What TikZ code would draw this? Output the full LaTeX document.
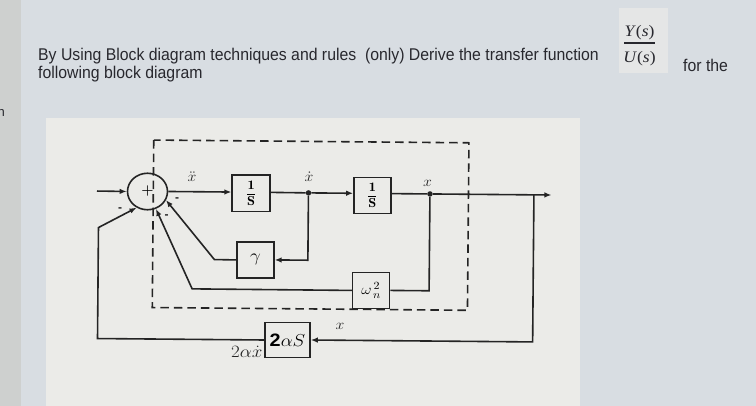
\documentclass[tikz,border=0pt]{standalone}
\usepackage{amsmath}
\usepackage{fontspec}
\newfontfamily\uifont{Liberation Sans}
\newfontfamily\serfont{Liberation Serif}
\usetikzlibrary{arrows.meta,shapes.geometric}
\definecolor{ink}{RGB}{36,36,36}
\definecolor{outerbg}{RGB}{216,221,226}
\definecolor{stripbg}{RGB}{206,208,207}
\definecolor{panelbg}{RGB}{235,235,232}
\definecolor{fracbg}{RGB}{229,230,230}
\definecolor{textc}{RGB}{40,40,46}
\newcommand{\hs}[1]{\scalebox{1.1}[1]{#1}}
\newcommand{\hdrscale}[1]{\scalebox{0.93}[1]{#1}}
\begin{document}
\begin{tikzpicture}[x=1pt,y=-1pt,
  line/.style={draw=ink,line width=1.6pt},
  arr/.style={line,-{Latex[length=7pt,width=5.5pt]}},
  blk/.style={draw=ink,line width=1.6pt,rectangle,inner sep=0pt,minimum width=37pt,minimum height=36pt},
  lbl/.style={text=ink,inner sep=0pt,font=\fontsize{14.5}{14.5}\selectfont},
  minus/.style={text=ink,inner sep=0pt,font=\uifont\bfseries\fontsize{12}{12}\selectfont},
  jdot/.style={circle,fill=ink,inner sep=0pt,minimum size=5.5pt},
  frame/.style={draw=ink,line width=1.6pt,dash pattern=on 8.5pt off 5pt},
  toptext/.style={text=textc,inner sep=0pt,anchor=base west,font=\uifont\fontsize{17}{17}\selectfont}]
\useasboundingbox (0,0) rectangle (756,406);
\fill[outerbg] (0,0) rectangle (756,406);
\fill[stripbg] (0,0) rectangle (21,406);
\fill[panelbg] (46,118) rectangle (580,406);
\fill[fracbg] (619,8) rectangle (668,73);
% header text
\node[toptext] (t1) at (38,60.5) {\hdrscale{By Using Block diagram techniques and rules\ \ (only) Derive the transfer function}};
\node[toptext] (t2) at (38,79) {\hdrscale{following block diagram}};
\node[toptext] (t3) at (683,71.5) {\hdrscale{for the}};
\node[toptext,anchor=base east,font=\uifont\fontsize{13}{13}\selectfont] (tn) at (5,117) {n};
\node[text=textc,inner sep=0pt,font=\serfont\fontsize{16}{16}\selectfont] (ys) at (639.5,33) {\hs{\textit{Y}(\textit{s})}};
\node[text=textc,inner sep=0pt,font=\serfont\fontsize{16}{16}\selectfont] (us) at (639.5,59) {\hs{\textit{U}(\textit{s})}};
\draw[textc,line width=1.6pt] (ys.south west |- 0,43.3) -- (ys.south east |- 0,43.3);
% diagram
\begin{scope}[rotate around={-0.5:(147.5,191.5)}]
\draw[frame] (153.3,140) rectangle (468.5,307.5);
\node[ellipse,draw=ink,line width=1.6pt,minimum width=40pt,minimum height=36.5pt,inner sep=0pt] (sum) at (147.5,191.5) {\fontsize{14}{14}\selectfont\textbf{+}};
\node[blk,minimum width=38pt,minimum height=36.5pt] (b1) at (251.2,192.3) {\hs{\fontsize{13}{13}\selectfont$\dfrac{\mathbf 1}{\mathbf S}$}};
\node[blk] (b2) at (372.5,193.5) {\hs{\fontsize{13}{13}\selectfont$\dfrac{\mathbf 1}{\mathbf S}$}};
\node[blk] (b3) at (256,259) {\hs{\fontsize{17}{17}\selectfont$\gamma$}};
\node[blk] (b4) at (372,288.5) {\hs{\fontsize{15}{15}\selectfont$\omega_{\,n}^{\,2}$}};
\node[blk,minimum width=45pt,minimum height=35pt] (b5) at (288.8,338.8) {\hs{\fontsize{18}{18}\selectfont{\uifont\bfseries 2}$\alpha S$}};
\node[jdot] (j1) at (308.5,191.5) {};
\node[jdot] (j2) at (430,191.5) {};
\coordinate (in) at (97,191.5);
\coordinate (tip) at (551.5,191.5);
\coordinate (br) at (534,191.5);
\coordinate (l1) at (98.8,228);
\coordinate (g1) at (215,259);
\coordinate (w1) at (193,288.5);
% connectors
\draw[arr] (in) -- (sum.west);
\draw[arr] (sum.east) -- (sum.east -| b1.west);
\draw[line] (sum.east -| b1.east) -- (j1);
\draw[arr] (j1) -- (j1 -| b2.west);
\draw[line] (j1 -| b2.east) -- (j2);
\draw[arr] (j2) -- (tip);
\draw[arr] (j1) |- (b3.east);
\draw[arr] (b3.west) -- (g1) -- (sum.-25);
\draw[line] (j2) |- (b4.east);
\draw[arr] (b4.west) -- (w1) -- (sum.-64.5);
\draw[arr] (br) |- (b5.east);
\draw[arr] (b5.west) -| (l1) -- (sum.-124);
% labels
\node[lbl] (lxdd) at (192,176) {\hs{$\ddot{x}$}};
\node[lbl] (lxd) at (309,175.5) {\hs{$\dot{x}$}};
\node[lbl] (lx) at (427.5,181) {\hs{$x$}};
\node[lbl] (lx2) at (341.3,325) {\hs{$x$}};
\node[lbl,font=\fontsize{18}{18}\selectfont,anchor=east] (l2ax) at (264,350.5) {\hs{$2\alpha\dot{x}$}};
\node[minus] (m1) at (120.2,210) {-};
\node[minus] (m2) at (166.8,216.5) {-};
\node[minus] (m3) at (177.3,199.2) {-};
\end{scope}
\end{tikzpicture}
\end{document}
